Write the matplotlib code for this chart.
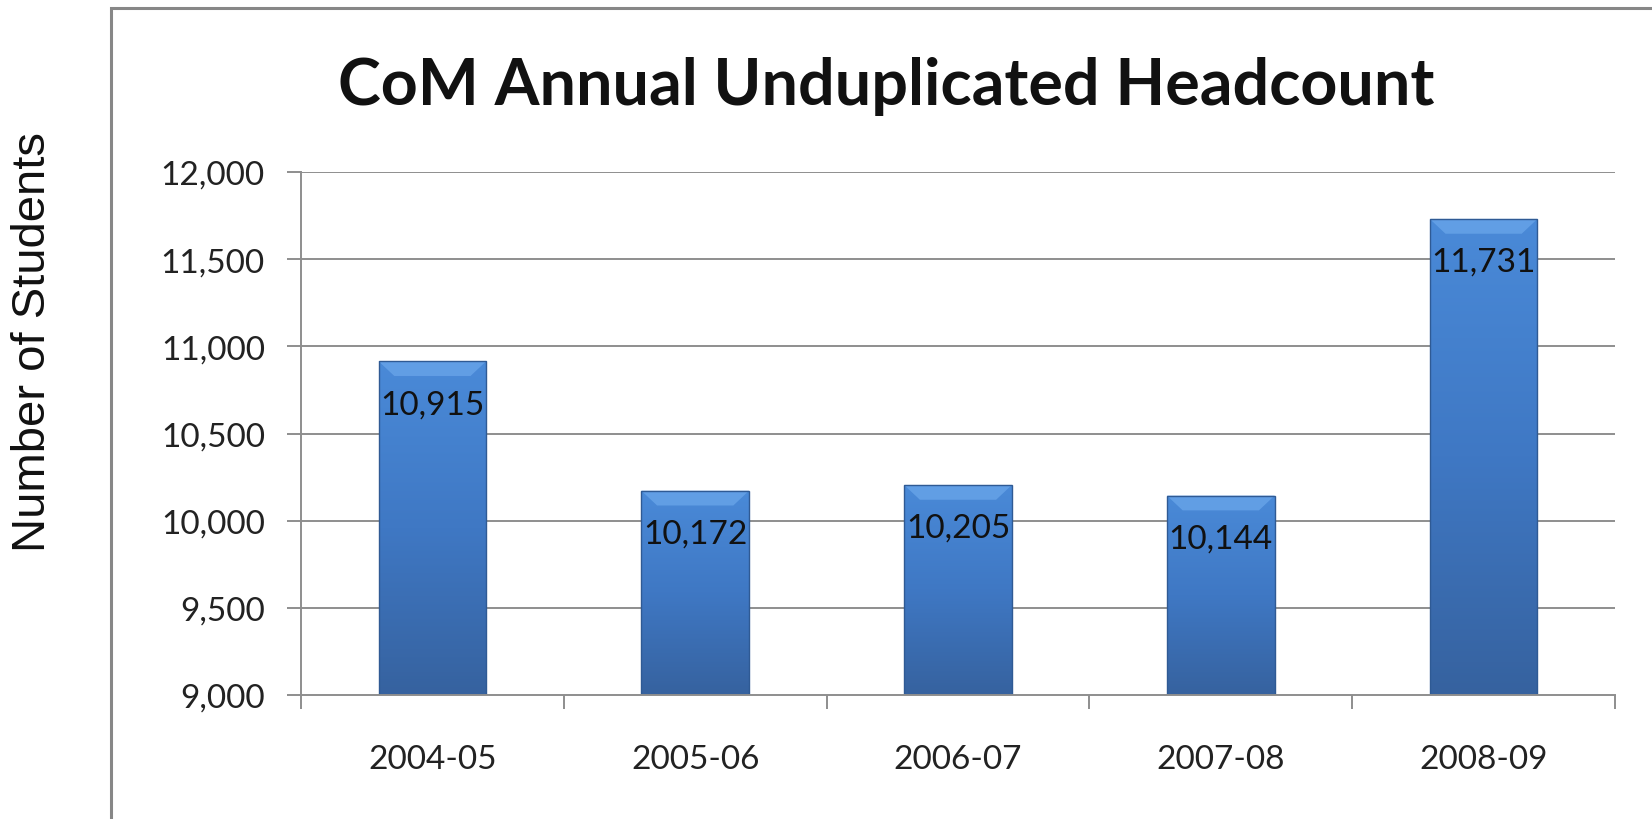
import matplotlib
matplotlib.use("Agg")
import matplotlib.pyplot as plt
import numpy as np
from matplotlib.patches import Rectangle, Polygon
from matplotlib.colors import LinearSegmentedColormap

categories = ["2004-05", "2005-06", "2006-07", "2007-08", "2008-09"]
values = [10915, 10172, 10205, 10144, 11731]
yticks = [9000, 9500, 10000, 10500, 11000, 11500, 12000]
title = "CoM Annual Unduplicated Headcount"
ylabel = "Number of Students"

W, H, DPI = 1652, 820, 100
fig = plt.figure(figsize=(W / DPI, H / DPI), dpi=DPI)
fig.patch.set_facecolor("white")

# outer chart frame (extends past right/bottom edges)
frame = Rectangle((111 / W, -0.1), 1.2, (H - 9) / H + 0.1, transform=fig.transFigure,
                  fill=False, edgecolor="#878787", linewidth=2.2, zorder=0)
fig.patches.append(frame)

ax = fig.add_axes([301 / W, 1 - 696 / H, (1615 - 301) / W, (696 - 173) / H])
ax.set_xlim(-0.5, len(categories) - 0.5)
ax.set_ylim(yticks[0], yticks[-1])

grid_c = "#8e8e8e"
for y in yticks[1:]:
    ax.axhline(y, color=grid_c, linewidth=1.4, zorder=1)

x = np.arange(len(categories))
bars = ax.bar(x, values, width=0.41, color="#3f79c4", edgecolor="none", zorder=3)

cmap = LinearSegmentedColormap.from_list("b", ["#4a8ad8", "#3f78c4", "#36629f"])
grad = np.linspace(1, 0, 256).reshape(-1, 1)
bevel_dx, bevel_dy = 0.06, 85
for b in bars:
    x0, w = b.get_x(), b.get_width()
    top = b.get_height()
    im = ax.imshow(grad, cmap=cmap, aspect="auto", extent=(x0, x0 + w, yticks[0], top),
                   origin="lower", zorder=3.5, vmin=0, vmax=1)
    im.set_clip_path(b)
    # bevel top highlight
    ax.add_patch(Polygon([(x0, top), (x0 + w, top), (x0 + w - bevel_dx, top - bevel_dy),
                          (x0 + bevel_dx, top - bevel_dy)], closed=True,
                         facecolor="#6aa6ea", edgecolor="none", alpha=0.75, zorder=3.6))
    ax.add_patch(Rectangle((x0, yticks[0]), w, top - yticks[0], fill=False,
                           edgecolor="#2f5a94", linewidth=1.0, zorder=3.7))

for xi, v in zip(x, values):
    ax.annotate(f"{v:,}", (xi, v), xytext=(0, -43 * 72 / DPI), textcoords="offset points",
                ha="center", va="center", fontsize=24, family="Lato", color="#111111", zorder=5)

ax.set_yticks(yticks)
ax.set_yticklabels([f"{t:,}" for t in yticks], family="Lato", fontsize=24, color="#222222")
ax.set_xticks(x)
ax.set_xticklabels(categories, family="Lato", fontsize=24, color="#222222")
ax.tick_params(axis="x", length=0, pad=35)
ax.set_xticks(np.arange(-0.5, len(categories)), minor=True)
ax.tick_params(axis="x", which="minor", length=10, width=1.4, color=grid_c)
ax.tick_params(axis="y", length=10, width=1.4, color=grid_c, pad=16)

for s in ["top", "right"]:
    ax.spines[s].set_visible(False)
for s in ["left", "bottom"]:
    ax.spines[s].set_color(grid_c)
    ax.spines[s].set_linewidth(1.4)
    ax.spines[s].set_zorder(4)

fig.text(886 / W, 1 - 87 / H, title, ha="center", va="center", fontsize=46.5,
         fontweight="bold", family="Lato", color="#111111")
fig.text(33 / W, 1 - 342 / H, ylabel, ha="center", va="center", rotation=90,
         fontsize=34, family="Liberation Sans", color="#111111")

fig.savefig("out.png", dpi=DPI)
